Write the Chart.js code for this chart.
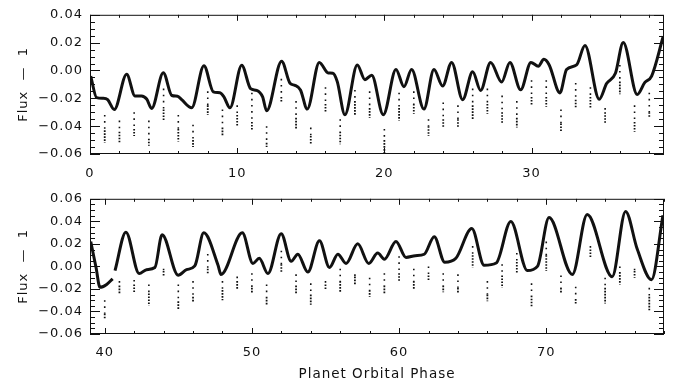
<!DOCTYPE html>
<html>
<head>
<meta charset="utf-8">
<script src="https://cdn.jsdelivr.net/npm/chart.js@4.4.1/dist/chart.umd.min.js"></script>
<style>
  html, body { margin: 0; padding: 0; background: #fff; }
  #wrap { position: relative; width: 678px; height: 384px; }
  #wrap canvas { position: absolute; left: 0; }
</style>
</head>
<body>
<div id="wrap">
  <canvas id="topChart" width="678" height="184" style="top:0"></canvas>
  <canvas id="bottomChart" width="678" height="200" style="top:184px"></canvas>
</div>
<script>
/* ---------- light curve (phase, flux - 1) ---------- */

// upper panel: orbital phase 0 - 39
const topPhase = [0.05, 0.45, 0.9, 1.2, 1.65, 2.49, 3.06, 3.5, 3.85, 4.19, 4.98, 5.56, 5.95, 6.23, 6.91,
  7.74, 8.38, 8.83, 9.1, 9.51, 10.31, 10.91, 11.32, 11.73, 12.0, 13.02, 13.59, 13.93, 14.3, 14.76,
  15.58, 16.19, 16.5, 16.8, 17.32, 18.16, 18.68, 19.14, 19.93, 20.79, 21.33, 21.85, 22.69, 23.37,
  23.96, 24.57, 25.32, 26.0, 26.54, 27.22, 27.97, 28.53, 29.26, 29.96, 30.46, 30.84, 31.2, 31.93,
  32.38, 33.06, 33.63, 34.6, 35.1, 35.7, 36.23, 37.18, 37.7, 38.16, 38.95];
const topFlux = [-0.004, -0.0195, -0.020, -0.021, -0.028, -0.0027, -0.0183, -0.0183, -0.0205, -0.0273, -0.0016, -0.018, -0.0185, -0.021, -0.0268,
  0.0034, -0.0153, -0.016, -0.019, -0.0268, 0.0038, -0.013, -0.0143, -0.019, -0.029, 0.0067, -0.0092, -0.0107, -0.014, -0.0277,
  0.0058, -0.0018, -0.002, -0.008, -0.0318, 0.004, -0.0066, -0.0034, -0.0318, 0.0007, -0.0116, 0.0007, -0.0277, 0.0007,
  -0.0112, 0.0058, -0.021, -0.0009, -0.0143, 0.0058, -0.0083, 0.0058, -0.0139, 0.0058, 0.0031, 0.008, 0.004, -0.0161,
  0.0007, 0.004, 0.0179, -0.0206, -0.0094, -0.002, 0.0201, -0.0172, -0.0085, -0.004, 0.0246];

// lower panel: orbital phase 39 - 78 (null = gap in the data)
const bottomPhase = [39.05, 39.41, 39.68, 40.13, 40.54, 40.62, 40.7, 41.44, 42.34, 42.84, 43.41, 43.9, 44.99, 45.56,
  46.12, 46.73, 47.7, 47.9, 49.35, 50.07, 50.5, 51.09, 51.99, 52.67, 53.12, 53.8, 54.59, 55.27, 55.84,
  56.4, 57.19, 57.94, 58.55, 59.0, 59.79, 60.47, 61.1, 61.71, 62.39, 63.1, 63.86, 64.94, 65.78, 66.6,
  67.59, 68.72, 69.4, 70.19, 71.77, 72.78, 74.48, 75.39, 76.18, 77.15, 77.93];
const bottomFlux = [0.022, -0.001, -0.0186, -0.016, -0.011, null, -0.0037, 0.0304, -0.0064, -0.0029, -0.001, 0.0282, -0.0078, -0.0029,
  0.0004, 0.0298, 0.001, -0.0072, 0.0298, 0.0026, 0.0072, -0.0064, 0.029, 0.0045, 0.0108, -0.005, 0.0227, -0.001, 0.0108,
  0.0026, 0.020, 0.0026, 0.0118, 0.0064, 0.0222, 0.008, 0.0095, 0.0108, 0.0263, 0.0037, 0.0072, 0.0336, 0.001, 0.003,
  0.0398, -0.0037, 0.000, 0.0434, -0.0072, 0.0461, -0.0091, 0.0488, 0.0154, -0.0118, 0.0453];

/* ---------- transits: first sparse point, top and bottom of the dense cluster ---------- */
const topTransitPhase = [1, 2, 3, 4, 5, 6, 7, 8, 9, 10, 11, 12, 13, 14, 15, 16, 17, 18, 19,
  20, 21, 22, 23, 24, 25, 26, 27, 28, 29, 30, 31, 32, 33, 34, 35, 36, 37, 38];
const topTransitUpper = [-0.032, -0.036, -0.030, -0.036, -0.013, -0.032, -0.039, -0.015, -0.028, -0.025,
  -0.016, -0.040, -0.006, -0.022, -0.041, -0.012, -0.035, -0.014, -0.015, -0.042, -0.016, -0.015, -0.035,
  -0.023, -0.025, -0.013, -0.013, -0.018, -0.022, -0.007, -0.007, -0.028, -0.009, -0.012, -0.027, 0.004, -0.025, -0.016];
const topTransitLow = [-0.043, -0.044, -0.042, -0.049, -0.028, -0.042, -0.050, -0.025, -0.041, -0.032,
  -0.037, -0.052, -0.019, -0.034, -0.047, -0.024, -0.044, -0.022, -0.027, -0.050, -0.027, -0.024, -0.040,
  -0.035, -0.035, -0.025, -0.024, -0.030, -0.034, -0.019, -0.019, -0.038, -0.021, -0.019, -0.030, -0.008, -0.037, -0.030];
const topTransitBottom = [-0.052, -0.052, -0.047, -0.054, -0.036, -0.051, -0.055, -0.032, -0.047, -0.040,
  -0.043, -0.055, -0.023, -0.042, -0.053, -0.030, -0.053, -0.032, -0.034, -0.060, -0.036, -0.031, -0.047,
  -0.041, -0.041, -0.035, -0.031, -0.038, -0.041, -0.025, -0.026, -0.044, -0.027, -0.027, -0.038, -0.017, -0.044, -0.034];

const bottomTransitPhase = [40, 41, 42, 43, 44, 45, 46, 47, 48, 49, 50, 51, 52, 53, 54, 55, 56, 57, 58,
  59, 60, 61, 62, 63, 64, 65, 66, 67, 68, 69, 70, 71, 72, 73, 74, 75, 76, 77];
const bottomTransitUpper = [-0.030, -0.013, -0.012, -0.016, -0.002, -0.016, -0.013, 0.011, -0.013, -0.009,
  -0.006, -0.016, 0.014, -0.007, -0.015, -0.013, -0.002, -0.007, -0.010, -0.006, 0.009, -0.002, 0.000,
  -0.006, -0.007, 0.018, -0.013, 0.002, 0.012, -0.015, 0.022, -0.008, -0.018, 0.018, -0.010, 0.000, -0.002, -0.019];
const bottomTransitLow = [-0.042, -0.017, -0.016, -0.024, -0.004, -0.031, -0.027, -0.002, -0.021, -0.013,
  -0.019, -0.027, 0.002, -0.017, -0.025, -0.016, -0.013, -0.009, -0.021, -0.017, -0.006, -0.013, -0.008,
  -0.017, -0.019, 0.010, -0.025, -0.008, 0.004, -0.026, 0.010, -0.019, -0.029, 0.015, -0.019, -0.005, -0.004, -0.027];
const bottomTransitBottom = [-0.047, -0.025, -0.023, -0.035, -0.008, -0.039, -0.032, -0.006, -0.030, -0.020,
  -0.024, -0.034, -0.006, -0.024, -0.034, -0.020, -0.023, -0.017, -0.027, -0.024, -0.013, -0.021, -0.013,
  -0.023, -0.024, -0.001, -0.031, -0.019, -0.006, -0.036, -0.004, -0.024, -0.033, 0.007, -0.033, -0.016, -0.010, -0.039];

/* ---------- axes ---------- */
const topXTicks = [0, 10, 20, 30];
const bottomXTicks = [40, 50, 60, 70];
const topYTicks = [-0.06, -0.04, -0.02, 0.00, 0.02, 0.04];
const bottomYTicks = [-0.06, -0.04, -0.02, 0.00, 0.02, 0.04, 0.06];

const FONT = { family: 'DejaVu Sans', size: 13 };
const INK = '#111';

function curveData(xs, ys) {
  return xs.map((x, i) => ({ x: x, y: ys[i] }));
}

// each transit becomes a short vertical run, split from the next by a null gap
function transitRuns(xs, from, to) {
  const out = [];
  xs.forEach((x, i) => {
    out.push({ x: x, y: from[i] }, { x: x, y: to[i] }, { x: x, y: null });
  });
  return out;
}

function fmtFlux(v) {
  const s = Math.abs(v).toFixed(2);
  return (v < -1e-9 ? '\u2212' : '') + s;
}

// IDL style box with inward ticks on all four sides
const frameTicks = {
  id: 'frameTicks',
  beforeDraw(chart) {
    chart.ctx.letterSpacing = '1px';
  },
  afterDraw(chart, args, opts) {
    const { ctx, chartArea: a } = chart;
    const x = chart.scales.x, y = chart.scales.y;
    ctx.save();
    ctx.strokeStyle = INK;
    ctx.lineWidth = 1;
    ctx.strokeRect(a.left + 0.5, a.top + 0.5, a.right - a.left - 1, a.bottom - a.top - 1);
    ctx.beginPath();
    for (let v = opts.xStart; v <= x.max + 1e-9; v += opts.xMinor) {
      const px = Math.round(x.getPixelForValue(v)) + 0.5;
      const major = Math.abs(v % opts.xMajor) < 1e-6;
      const len = major ? 6 : 3;
      ctx.moveTo(px, a.bottom); ctx.lineTo(px, a.bottom - len);
      ctx.moveTo(px, a.top); ctx.lineTo(px, a.top + len);
    }
    const n = Math.round((y.max - y.min) / opts.yMinor);
    for (let k = 0; k <= n; k++) {
      const v = y.min + k * opts.yMinor;
      const py = Math.round(y.getPixelForValue(v)) + 0.5;
      const r = v / opts.yMajor;
      const major = Math.abs(r - Math.round(r)) < 1e-6;
      const len = major ? 10 : 5;
      ctx.moveTo(a.left, py); ctx.lineTo(a.left + len, py);
      ctx.moveTo(a.right, py); ctx.lineTo(a.right - len, py);
    }
    ctx.stroke();
    ctx.restore();
  }
};

function makeChart(id, cfg) {
  return new Chart(document.getElementById(id).getContext('2d'), {
    type: 'line',
    data: {
      datasets: [
        {
          data: curveData(cfg.phase, cfg.flux),
          borderColor: INK, borderWidth: 3, pointRadius: 0,
          cubicInterpolationMode: 'monotone', spanGaps: false
        },
        {
          data: transitRuns(cfg.tPhase, cfg.tUpper, cfg.tLow),
          borderColor: INK, borderWidth: 1.6, borderDash: [1.6, 4.5], pointRadius: 0,
          tension: 0, spanGaps: false
        },
        {
          data: transitRuns(cfg.tPhase, cfg.tLow, cfg.tBottom),
          borderColor: INK, borderWidth: 1.8, borderDash: [1.6, 1.4], pointRadius: 0,
          tension: 0, spanGaps: false
        }
      ]
    },
    options: {
      responsive: false,
      animation: false,
      devicePixelRatio: 1,
      layout: { padding: { top: cfg.padTop, right: 14, left: 0, bottom: 0 } },
      plugins: {
        legend: { display: false },
        tooltip: { enabled: false },
        frameTicks: { xStart: cfg.xMinorStart, xMinor: 2, xMajor: 10, yMinor: 0.005, yMajor: 0.02 }
      },
      scales: {
        x: {
          type: 'linear', min: cfg.xMin, max: cfg.xMax,
          grid: { display: false, drawTicks: false },
          border: { display: false },
          afterBuildTicks: s => { s.ticks = cfg.xTicks.map(v => ({ value: v })); },
          afterFit: s => { s.height = cfg.xHeight; },
          ticks: { color: INK, font: FONT, padding: cfg.xPad, maxRotation: 0, callback: v => String(v) },
          title: cfg.xTitle
            ? { display: true, text: cfg.xTitle, color: INK, font: { family: 'DejaVu Sans', size: 13.5 }, padding: { top: 0, bottom: 1 } }
            : { display: false }
        },
        y: {
          type: 'linear', min: cfg.yMin, max: cfg.yMax,
          grid: { display: false, drawTicks: false },
          border: { display: false },
          afterBuildTicks: s => { s.ticks = cfg.yTicks.map(v => ({ value: v })); },
          afterFit: s => { s.width = 90; },
          ticks: { color: INK, font: FONT, padding: 7, callback: v => fmtFlux(v) },
          title: { display: true, text: 'Flux  \u2014  1', color: INK, font: FONT, padding: { top: 16, bottom: 0 } }
        }
      }
    },
    plugins: [frameTicks]
  });
}

makeChart('topChart', {
  phase: topPhase, flux: topFlux,
  tPhase: topTransitPhase, tUpper: topTransitUpper, tLow: topTransitLow, tBottom: topTransitBottom,
  xMin: 0, xMax: 39, yMin: -0.06, yMax: 0.04,
  xTicks: topXTicks, yTicks: topYTicks, xMinorStart: 0,
  padTop: 5, xHeight: 30, xPad: 12, xTitle: null
});

makeChart('bottomChart', {
  phase: bottomPhase, flux: bottomFlux,
  tPhase: bottomTransitPhase, tUpper: bottomTransitUpper, tLow: bottomTransitLow, tBottom: bottomTransitBottom,
  xMin: 39, xMax: 78, yMin: -0.06, yMax: 0.06,
  xTicks: bottomXTicks, yTicks: bottomYTicks, xMinorStart: 40,
  padTop: 3, xHeight: 50, xPad: 11, xTitle: 'Planet Orbital Phase'
});
</script>
</body>
</html>
